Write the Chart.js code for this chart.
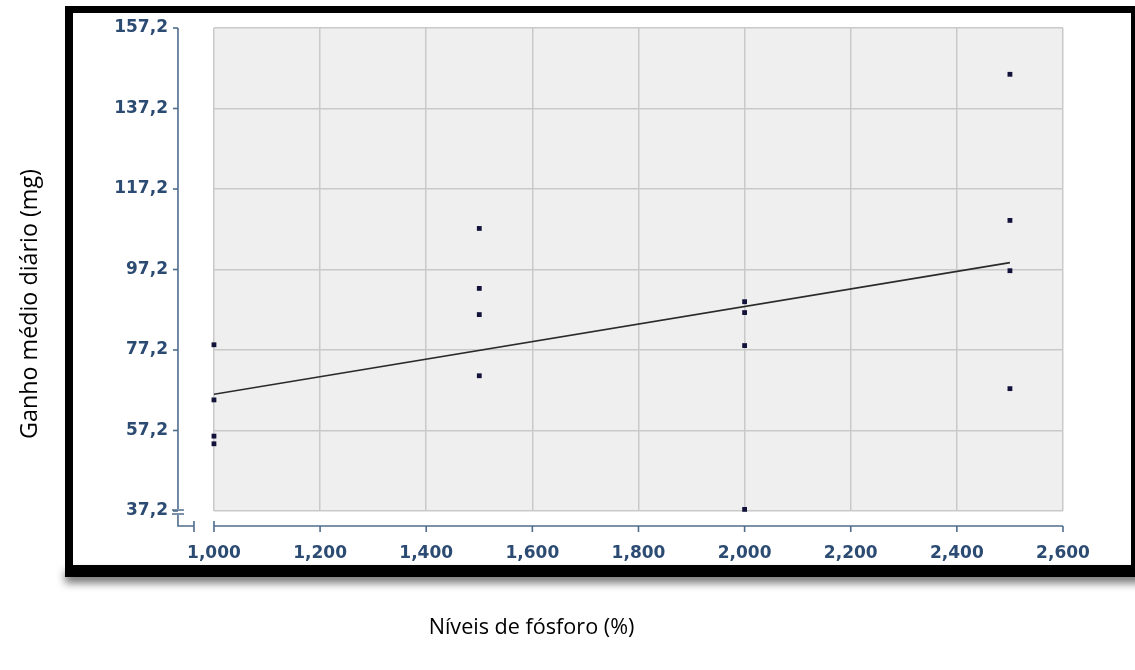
<!DOCTYPE html>
<html>
<head>
<meta charset="utf-8">
<script src="https://cdn.jsdelivr.net/npm/chart.js@4.4.1/dist/chart.umd.min.js"></script>
<style>
  html, body { margin: 0; padding: 0; background: #ffffff; overflow: hidden; }
  #wrap { position: relative; width: 1135px; height: 670px; }
</style>
</head>
<body>
<div id="wrap"><canvas id="chart" width="1135" height="670"></canvas></div>
<script>
// ---------- data ----------
const xAxisTitle = 'Níveis de fósforo (%)';
const yAxisTitle = 'Ganho médio diário (mg)';

const phosphorusLevels = [1.0, 1.5, 2.0, 2.5];
const gainLevel1 = [78.5, 64.8, 55.8, 53.9];   // 1,0 %
const gainLevel2 = [107.4, 92.5, 86.0, 70.8];  // 1,5 %
const gainLevel3 = [89.2, 86.5, 78.3, 37.6];   // 2,0 %
const gainLevel4 = [145.7, 109.4, 96.9, 67.6]; // 2,5 %

const trendX = [1.0, 2.5];
const trendY = [66.2, 98.9];

const xTickValues = [1.0, 1.2, 1.4, 1.6, 1.8, 2.0, 2.2, 2.4, 2.6];
const xTickLabels = ['1,000', '1,200', '1,400', '1,600', '1,800', '2,000', '2,200', '2,400', '2,600'];
const yTickValues = [37.2, 57.2, 77.2, 97.2, 117.2, 137.2, 157.2];
const yTickLabels = ['37,2', '57,2', '77,2', '97,2', '117,2', '137,2', '157,2'];

// ---------- build ----------
const gainGroups = [gainLevel1, gainLevel2, gainLevel3, gainLevel4];
const scatterPoints = [];
gainGroups.forEach((g, i) => g.forEach(v => scatterPoints.push({ x: phosphorusLevels[i], y: v })));
const trendPoints = trendX.map((x, i) => ({ x: x, y: trendY[i] }));

const tickColor = '#2c4b72';
const axisColor = '#4f6c8c';

const plotBackground = {
  id: 'plotBackground',
  beforeDraw(chart) {
    const { ctx, chartArea: a } = chart;
    ctx.save();
    ctx.fillStyle = '#efefef';
    ctx.fillRect(a.left, a.top, a.right - a.left, a.bottom - a.top);
    ctx.restore();
  }
};

const offsetAxes = {
  id: 'offsetAxes',
  afterDraw(chart) {
    const { ctx, chartArea: a, scales } = chart;
    const ys = scales.y, xs = scales.x;
    const axX = a.left - 36;
    const axY = a.bottom + 15;
    ctx.save();
    ctx.strokeStyle = axisColor;
    ctx.lineWidth = 1.6;
    ctx.beginPath();
    ctx.moveTo(axX, ys.getPixelForValue(yTickValues[yTickValues.length - 1]));
    ctx.lineTo(axX, a.bottom - 2);
    ctx.stroke();
    yTickValues.forEach(v => {
      const p = ys.getPixelForValue(v);
      ctx.beginPath();
      ctx.moveTo(axX - 5, p);
      ctx.lineTo(axX, p);
      ctx.stroke();
    });
    ctx.beginPath();
    ctx.moveTo(axX - 6, a.bottom - 1); ctx.lineTo(axX + 6, a.bottom - 1);
    ctx.moveTo(axX - 6, a.bottom + 3); ctx.lineTo(axX + 6, a.bottom + 3);
    ctx.moveTo(axX, a.bottom + 4); ctx.lineTo(axX, axY);
    ctx.lineTo(axX + 16, axY);
    ctx.moveTo(axX + 16, axY - 5); ctx.lineTo(axX + 16, axY + 6);
    ctx.stroke();
    const x0 = xs.getPixelForValue(xTickValues[0]);
    const x1 = xs.getPixelForValue(xTickValues[xTickValues.length - 1]);
    ctx.beginPath();
    ctx.moveTo(x0, axY); ctx.lineTo(x1, axY);
    ctx.stroke();
    xTickValues.forEach(v => {
      const p = xs.getPixelForValue(v);
      ctx.beginPath();
      ctx.moveTo(p, axY - (v === xTickValues[0] ? 5 : 0));
      ctx.lineTo(p, axY + 6);
      ctx.stroke();
    });
    ctx.restore();
  }
};

const blackFrame = {
  id: 'blackFrame',
  afterDraw(chart) {
    const { ctx } = chart;
    ctx.save();
    ctx.fillStyle = '#000000';
    ctx.shadowColor = 'rgba(0,0,0,0.55)';
    ctx.shadowBlur = 9;
    ctx.shadowOffsetY = 6;
    ctx.fillRect(65, 565, 1080, 12);
    ctx.shadowColor = 'rgba(0,0,0,0)';
    ctx.shadowBlur = 0;
    ctx.shadowOffsetY = 0;
    ctx.fillRect(65, 6, 8, 571);
    ctx.fillRect(65, 6, 1080, 7);
    ctx.fillRect(1131, 6, 10, 571);
    ctx.restore();
  }
};

const tickFont = { family: 'DejaVu Sans', size: 17, weight: 'bold' };
const xTitleFont = { family: 'Open Sans', size: 21.6, weight: 'normal', lineHeight: 1.2 };
const yTitleFont = { family: 'Open Sans', size: 23.3, weight: 'normal', lineHeight: 1.2 };

new Chart(document.getElementById('chart'), {
  type: 'scatter',
  data: {
    datasets: [
      {
        label: 'Ganho',
        data: scatterPoints,
        pointStyle: 'rect',
        pointRadius: 3.4,
        pointBorderWidth: 0,
        backgroundColor: '#12123a',
        borderColor: '#12123a',
        clip: false,
        order: 1
      },
      {
        label: 'Regressão',
        data: trendPoints,
        showLine: true,
        pointRadius: 0,
        borderColor: '#2a2a2a',
        borderWidth: 1.7,
        fill: false,
        order: 2
      }
    ]
  },
  options: {
    responsive: false,
    animation: false,
    devicePixelRatio: 1,
    layout: { padding: { left: 0, right: 72, top: 28, bottom: 90 } },
    plugins: {
      legend: { display: false },
      tooltip: { enabled: false },
      subtitle: {
        display: true,
        position: 'left',
        fullSize: true,
        text: yAxisTitle,
        color: '#000000',
        font: yTitleFont,
        padding: { top: 16, bottom: 0 }
      },
      title: {
        display: true,
        position: 'bottom',
        fullSize: true,
        text: xAxisTitle,
        color: '#000000',
        font: xTitleFont,
        padding: { top: 35.04, bottom: -60.96 }
      }
    },
    scales: {
      x: {
        type: 'linear',
        min: 1.0,
        max: 2.6,
        afterBuildTicks(scale) { scale.ticks = xTickValues.map(v => ({ value: v })); },
        afterFit(scale) { scale.height = 69; },
        border: { display: false },
        grid: { color: '#c9c9c9', lineWidth: 1.5, drawTicks: false },
        ticks: {
          autoSkip: false,
          maxRotation: 0,
          padding: 32,
          color: tickColor,
          font: tickFont,
          callback: (v, i) => xTickLabels[i]
        }
      },
      y: {
        type: 'linear',
        min: 37.2,
        max: 157.2,
        afterBuildTicks(scale) { scale.ticks = yTickValues.map(v => ({ value: v })); },
        afterFit(scale) {
          scale.width = 170;
          scale.paddingTop = 0;
          scale.paddingBottom = 0;
        },
        border: { display: false },
        grid: { color: '#c9c9c9', lineWidth: 1.5, drawTicks: false },
        ticks: {
          autoSkip: false,
          padding: 46,
          color: tickColor,
          font: tickFont,
          callback: (v, i) => yTickLabels[i]
        }
      }
    }
  },
  plugins: [plotBackground, offsetAxes, blackFrame]
});
</script>
</body>
</html>
